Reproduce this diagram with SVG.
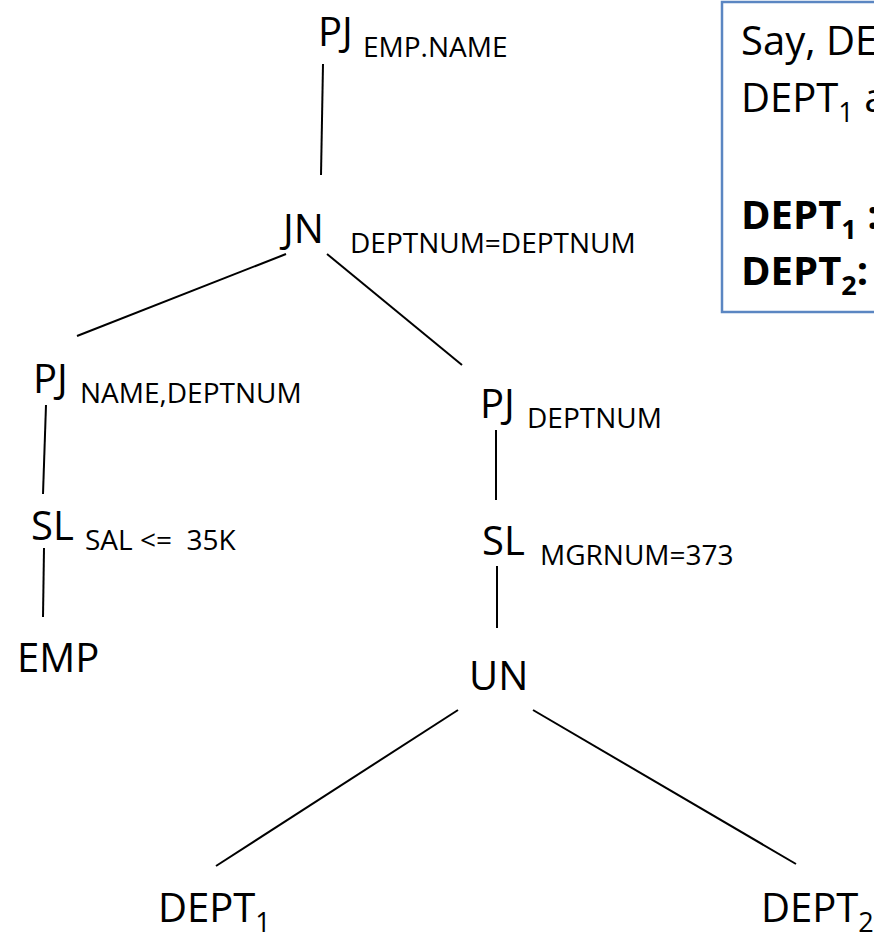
<svg xmlns="http://www.w3.org/2000/svg" width="874" height="936" viewBox="0 0 874 936">
  <style>
    text { font-family: "Open Sans", "Noto Sans", sans-serif; fill: #000; }
    .op { font-size: 40px; }
    .sub { font-size: 28px; }
    .idx { font-size: 27px; }
    .bold { font-weight: bold; }
    .edge { stroke: #000; stroke-width: 2; fill: none; }
    .note { fill: #fff; stroke: #5b86c2; stroke-width: 2.5; }
  </style>

  <!-- tree edges -->
  <g id="connectors">
    <line class="edge" x1="323" y1="64" x2="321" y2="175"/>
    <line class="edge" x1="286" y1="254" x2="77" y2="336"/>
    <line class="edge" x1="327" y1="254" x2="462" y2="365"/>
    <line class="edge" x1="46" y1="405" x2="43" y2="494"/>
    <line class="edge" x1="44" y1="548" x2="43" y2="617"/>
    <line class="edge" x1="496" y1="430" x2="496" y2="500"/>
    <line class="edge" x1="497" y1="566" x2="497" y2="628"/>
    <line class="edge" x1="458" y1="710" x2="216" y2="866"/>
    <line class="edge" x1="533" y1="710" x2="796" y2="864"/>
  </g>

  <!-- operators -->
  <g id="pj-root">
    <text class="op" x="318" y="46">PJ</text>
    <text class="sub" x="363" y="57">EMP.NAME</text>
  </g>
  <g id="jn">
    <text class="op" x="283" y="243">JN</text>
    <text class="sub" x="350" y="253">DEPTNUM=DEPTNUM</text>
  </g>
  <g id="pj-left">
    <text class="op" x="33" y="393">PJ</text>
    <text class="sub" x="80" y="403">NAME,DEPTNUM</text>
  </g>
  <g id="sl-left">
    <text class="op" x="31" y="540">SL</text>
    <text class="sub" x="85" y="550" xml:space="preserve">SAL &lt;=  35K</text>
  </g>
  <g id="emp">
    <text class="op" x="17" y="672">EMP</text>
  </g>
  <g id="pj-right">
    <text class="op" x="480" y="418">PJ</text>
    <text class="sub" x="527" y="428">DEPTNUM</text>
  </g>
  <g id="sl-right">
    <text class="op" x="482" y="555">SL</text>
    <text class="sub" x="540" y="565">MGRNUM=373</text>
  </g>
  <g id="un">
    <text class="op" x="469" y="690">UN</text>
  </g>
  <g id="dept1">
    <text class="op" x="158" y="922">DEPT<tspan class="idx" dy="10">1</tspan></text>
  </g>
  <g id="dept2">
    <text class="op" x="761" y="922">DEPT<tspan class="idx" dy="10">2</tspan></text>
  </g>

  <!-- fragmentation note -->
  <g id="note">
    <rect class="note" x="722" y="2" width="170" height="310"/>
    <text class="op" x="741" y="55">Say, DE</text>
    <text class="op" x="741" y="112">DEPT<tspan class="idx" dy="10">1</tspan><tspan dy="-10"> a</tspan></text>
    <text class="op bold" x="741" y="229">DEPT<tspan class="idx" dy="10">1</tspan><tspan dy="-10"> :</tspan></text>
    <text class="op bold" x="741" y="285">DEPT<tspan class="idx" dy="10">2</tspan><tspan dy="-10">:</tspan></text>
  </g>
</svg>
